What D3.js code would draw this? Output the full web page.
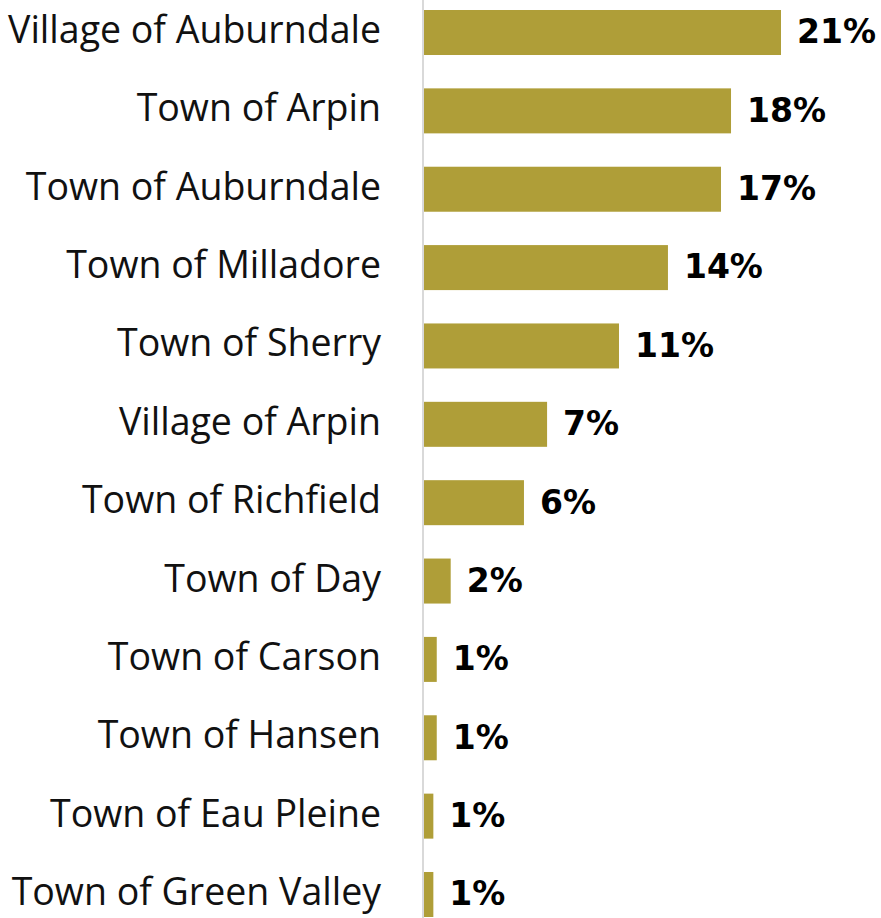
<!DOCTYPE html>
<html>
<head>
<meta charset="utf-8">
<script src="https://cdn.jsdelivr.net/npm/d3@7"></script>
<style>
  html, body { margin: 0; padding: 0; background: #fff; }
  svg { display: block; }
</style>
</head>
<body>
<svg id="chart" width="881" height="918"></svg>
<script>
const categories = [
  "Village of Auburndale", "Town of Arpin", "Town of Auburndale", "Town of Milladore",
  "Town of Sherry", "Village of Arpin", "Town of Richfield", "Town of Day",
  "Town of Carson", "Town of Hansen", "Town of Eau Pleine", "Town of Green Valley"
];
const values = [21.0, 18.06, 17.47, 14.35, 11.47, 7.24, 5.88, 1.57, 0.75, 0.75, 0.55, 0.55];
const valueLabels = ["21%", "18%", "17%", "14%", "11%", "7%", "6%", "2%", "1%", "1%", "1%", "1%"];

const svg = d3.select("#chart");
const W = 881, H = 918;
const x0 = 424;

const x = d3.scaleLinear().domain([0, 21]).range([x0, 781]);
const y = d3.scaleBand().domain(categories).range([-5.67, 932.67]).paddingInner(0.4257).paddingOuter(0.2);

// axis line
svg.append("line")
  .attr("x1", 423).attr("x2", 423).attr("y1", 0).attr("y2", H)
  .attr("stroke", "#d9d9d9").attr("stroke-width", 2);

const data = categories.map((c, i) => ({ c, v: values[i], l: valueLabels[i] }));

svg.selectAll("rect.bar").data(data).join("rect")
  .attr("class", "bar")
  .attr("x", x(0))
  .attr("y", d => y(d.c))
  .attr("width", d => x(d.v) - x(0))
  .attr("height", y.bandwidth())
  .attr("fill", "#AF9E38");

svg.selectAll("text.cat").data(data).join("text")
  .attr("class", "cat")
  .attr("x", 381)
  .attr("y", d => y(d.c) + y.bandwidth() / 2)
  .attr("dy", "0.28em")
  .attr("text-anchor", "end")
  .attr("font-family", "'Open Sans', sans-serif")
  .attr("font-size", 37.5)
  .attr("fill", "#111")
  .text(d => d.c);

svg.selectAll("text.val").data(data).join("text")
  .attr("class", "val")
  .attr("x", d => x(d.v) + 16)
  .attr("y", d => y(d.c) + y.bandwidth() / 2)
  .attr("dy", "0.33em")
  .attr("font-family", "'DejaVu Sans', sans-serif")
  .attr("font-weight", "bold")
  .attr("font-size", 33)
  .attr("fill", "#000")
  .text(d => d.l);
</script>
</body>
</html>
